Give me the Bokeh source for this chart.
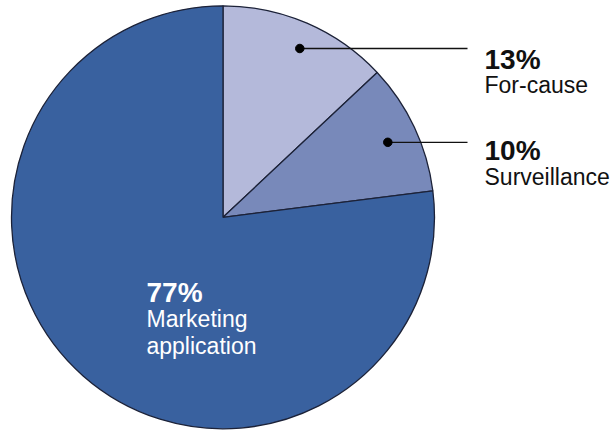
import math
from bokeh.plotting import figure
from bokeh.models import ColumnDataSource, Range1d
from bokeh.core.properties import value
from bokeh.embed import file_html
from bokeh.resources import INLINE

# ---- data ----
categories = ["For-cause", "Surveillance", "Marketing application"]
shares = [13, 10, 77]
pct_labels = ["13%", "10%", "77%"]
name_lines = [["For-cause"], ["Surveillance"], ["Marketing", "application"]]
colors = ["#B4B9DA", "#7889BA", "#39619F"]

W, H = 614, 430
FONT = "Liberation Sans"

def Y(py):
    return H - py

p = figure(width=W, height=H, output_backend="svg", toolbar_location=None,
           x_range=Range1d(0, W), y_range=Range1d(0, H),
           min_border=0, min_border_left=0, min_border_right=0,
           min_border_top=0, min_border_bottom=0)
p.axis.visible = False
p.grid.visible = False
p.outline_line_color = None
p.background_fill_color = "white"
p.border_fill_color = "white"

cx, cy, r = 222.5, Y(216.8), 211.5
total = float(sum(shares))
starts, ends = [], []
cum = 0.0
for s in shares:
    starts.append(math.pi / 2 - 2 * math.pi * cum / total)
    cum += s
    ends.append(math.pi / 2 - 2 * math.pi * cum / total)

src = ColumnDataSource(dict(cat=categories, val=shares, start=starts, end=ends, color=colors))
p.wedge(x=cx, y=cy, radius=r, start_angle="start", end_angle="end", direction="clock",
        fill_color="color", line_color="#1c2238", line_width=1.3, source=src)

# leader lines + dots for small slices
dots_x = [299.3, 387.3]
dots_y = [Y(48.0), Y(141.8)]
line_end = 467
p.segment(x0=dots_x, y0=dots_y, x1=[line_end, line_end], y1=dots_y,
          line_color="#111111", line_width=1.3)
p.scatter(x=dots_x, y=dots_y, size=8.5, color="#000000")

# labels
lab_x = [484, 484, 146]
pct_base = [58.5, 150.2, 292.0]
name_base = [[84.5], [176.8], [318.3, 345.0]]
txt_col = ["#111111", "#111111", "#FFFFFF"]
for i in range(3):
    p.text(x=[lab_x[i]], y=[Y(pct_base[i])], text=[pct_labels[i]],
           text_font=value(FONT), text_font_size="28px", text_font_style="bold",
           text_color=txt_col[i], text_baseline="alphabetic", text_align="left")
    for ln, b in zip(name_lines[i], name_base[i]):
        p.text(x=[lab_x[i]], y=[Y(b)], text=[ln],
               text_font=value(FONT), text_font_size="23px",
               text_color=txt_col[i], text_baseline="alphabetic", text_align="left")

open("out.html", "w").write(file_html(p, INLINE))
